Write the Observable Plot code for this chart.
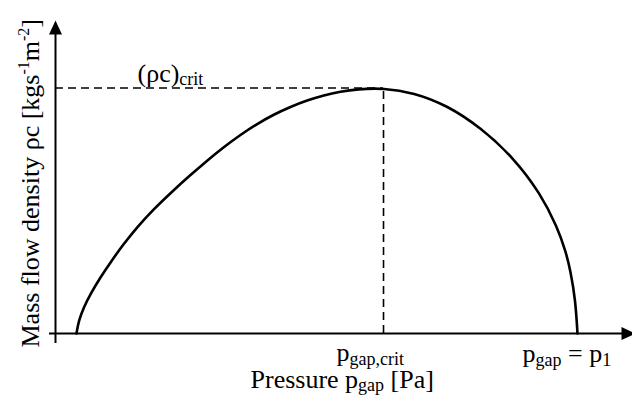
<!DOCTYPE html>
<html>
<head>
<meta charset="utf-8">
<script src="https://cdn.jsdelivr.net/npm/d3@7"></script>
<script src="https://cdn.jsdelivr.net/npm/@observablehq/plot@0.6"></script>
<style>
  html, body { margin: 0; padding: 0; background: #fff; }
  svg { display: block; }
</style>
</head>
<body>
<div id="chart"></div>
<script>
// Relative pressure p_gap / p_1
const pressure = [0.0402, 0.0446, 0.0542, 0.0670, 0.0862, 0.1054, 0.1308, 0.1565, 0.1883, 0.2203, 0.2586, 0.2906, 0.3224, 0.3544, 0.3864, 0.4182, 0.4502, 0.4822, 0.5140, 0.5460, 0.5780, 0.6284, 0.6858, 0.7510, 0.8142, 0.8774, 0.9291, 0.9617, 0.9770, 0.9866, 0.9962, 1.0];
// Relative mass flow density (rho c)/(rho c)_crit
const massFlow = [0, 0.0530, 0.1071, 0.1617, 0.2293, 0.2904, 0.3654, 0.4338, 0.5071, 0.5723, 0.6456, 0.7047, 0.7597, 0.8094, 0.8542, 0.8921, 0.9238, 0.9499, 0.9707, 0.9857, 0.9955, 1.0, 0.9817, 0.9287, 0.8391, 0.7169, 0.5703, 0.4318, 0.3381, 0.2566, 0.1344, 0];
const pCrit = 0.6284;
const flowCrit = 1.0;
const xMax = 1.1054;
const yMax = 1.275;

const curve = pressure.map((p, i) => ({p, f: massFlow[i]}));

// Rich labels: parts are [text, "n"|"sub"|"sup"]
const labels = [
  {key: "L1", x: 0.1571, y: flowCrit, parts: [["(ρc)", "n"], ["crit", "sub"]], dy: -6.5},
  {key: "L2", x: 0.5383, y: 0, parts: [["p", "n"], ["gap,crit", "sub"]], dy: 27.5},
  {key: "L3", x: 0.8946, y: 0, parts: [["p", "n"], ["gap", "sub"], [" = p", "n"], ["1", "sub"]], dy: 28.5},
  {key: "L4", x: 0.3736, y: 0, parts: [["Pressure p", "n"], ["gap", "sub"], [" [Pa]", "n"]], dy: 54}
];
const yParts = [["Mass flow density ρc [kgs", "n"], ["-1", "sup"], ["m", "n"], ["-2", "sup"], ["]", "n"]];

const font = "Liberation Serif";

// arrowhead symbol: tip at origin, pointing up
const arrowHead = {draw(ctx) { ctx.moveTo(0, 0); ctx.lineTo(-6.5, 14); ctx.lineTo(6.5, 14); ctx.closePath(); }};

const chart = Plot.plot({
  width: 632,
  height: 407,
  marginLeft: 55,
  marginRight: 0,
  marginTop: 20,
  marginBottom: 74,
  style: {fontFamily: font, background: "#fff"},
  x: {domain: [0, xMax], axis: null},
  y: {domain: [0, yMax], axis: null},
  marks: [
    // dashed guide lines
    Plot.ruleY([flowCrit], {x1: 0, x2: pCrit, stroke: "#000", strokeWidth: 1.6, strokeDasharray: "8,5"}),
    Plot.ruleX([pCrit], {y1: 0, y2: flowCrit, stroke: "#000", strokeWidth: 1.6, strokeDasharray: "8,5"}),
    // axes
    Plot.ruleX([0], {y1: 0, y2: yMax, dy: 10, stroke: "#000", strokeWidth: 2}),
    Plot.ruleY([0], {x1: 0, x2: xMax, dx: -6, stroke: "#000", strokeWidth: 2}),
    Plot.dot([{x: 0, y: yMax}], {x: "x", y: "y", symbol: arrowHead, r: 5, fill: "#000", stroke: null}),
    Plot.dot([{x: xMax, y: 0}], {x: "x", y: "y", symbol: arrowHead, r: 5, fill: "#000", stroke: null, rotate: 90, dx: 3}),
    // curve
    Plot.line(curve, {x: "p", y: "f", curve: "basis", stroke: "#000", strokeWidth: 2.6}),
    // text labels (enriched below with sub/superscripts)
    ...labels.map(l => Plot.text([l], {x: "x", y: "y", text: d => d.key, textAnchor: "start", dy: l.dy, fontSize: 26, fontFamily: font, fill: "#000", lineAnchor: "bottom"})),
    Plot.text(["Y"], {frameAnchor: "bottom-left", text: d => "YLAB", rotate: -90, dx: -17, dy: 14, fontSize: 26, fontFamily: font, fill: "#000", textAnchor: "start", lineAnchor: "bottom"})
  ]
});

document.getElementById("chart").appendChild(chart);

function fill(textEl, parts) {
  textEl.textContent = "";
  const ns = "http://www.w3.org/2000/svg";
  let shift = 0;
  for (const [t, kind] of parts) {
    const ts = document.createElementNS(ns, "tspan");
    const target = kind === "sub" ? 3.5 : kind === "sup" ? -10 : 0;
    ts.setAttribute("dy", target - shift);
    shift = target;
    if (kind !== "n") ts.setAttribute("font-size", kind === "sup" ? "16" : "18");
    ts.textContent = t;
    textEl.appendChild(ts);
  }
}

chart.querySelectorAll("text").forEach(el => {
  const k = el.textContent;
  const l = labels.find(d => d.key === k);
  if (l) fill(el, l.parts);
  else if (k === "YLAB") fill(el, yParts);
});
</script>
</body>
</html>
